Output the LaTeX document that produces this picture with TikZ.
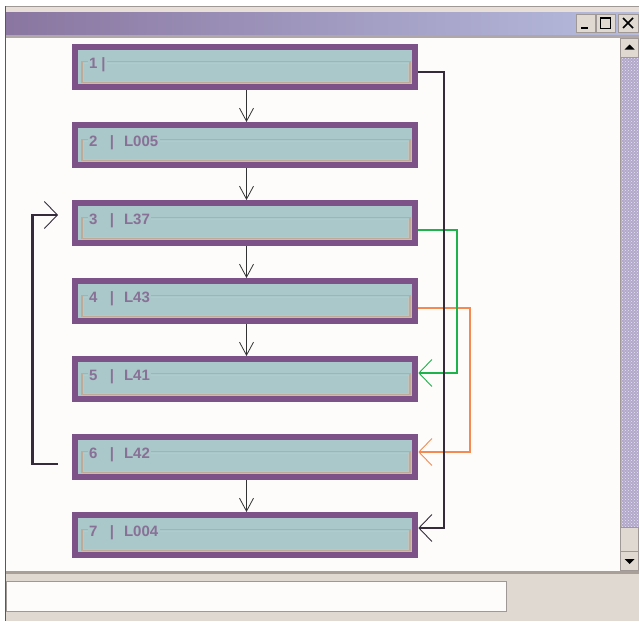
\documentclass[tikz,border=0pt]{standalone}
\usepackage{fontspec}
\setmainfont{Liberation Sans}
\usetikzlibrary{arrows.meta,calc,patterns}
\definecolor{boxpurple}{RGB}{124,82,137}
\definecolor{boxteal}{RGB}{170,199,201}
\definecolor{frametan}{RGB}{190,170,150}
\definecolor{frameinner}{RGB}{196,196,190}
\definecolor{labelcol}{RGB}{136,112,150}
\definecolor{darkconn}{RGB}{52,44,58}
\definecolor{greenconn}{RGB}{30,178,74}
\definecolor{orangeconn}{RGB}{244,138,82}
\definecolor{winbeige}{RGB}{224,217,210}
\definecolor{winwhite}{RGB}{253,252,251}
\definecolor{wingray}{RGB}{160,152,148}
\definecolor{windark}{RGB}{96,84,96}
\definecolor{titleleft}{RGB}{138,118,160}
\definecolor{titleright}{RGB}{182,188,222}
\definecolor{tracklav}{RGB}{178,168,202}
\definecolor{titlelight}{RGB}{232,224,216}
\definecolor{titleedge}{RGB}{176,168,168}
\definecolor{statusedge}{RGB}{168,160,152}
\tikzset{
  flowbox/.style={draw=boxpurple, line width=6pt, fill=boxteal, rectangle,
    minimum width=340.6pt, minimum height=40pt, inner sep=0pt},
  boxframe/.style={draw=frametan, line width=1.1pt},
  boxframein/.style={draw=frameinner, line width=0.6pt},
  boxlabel/.style={fill=boxteal, text=labelcol, font=\fontsize{15}{15}\selectfont\bfseries,
    inner xsep=1.5pt, inner ysep=1pt, anchor=base west},
  varrow/.style={draw=black!80, line width=0.9pt,
    -{Straight Barb[length=13pt,width=14pt,line width=0.8pt]}},
  conn/.style={line width=2.4pt,
    -{Straight Barb[length=13pt,width=27pt,line width=0.9pt]}},
  winbtn/.style={fill=winbeige, draw=wingray, line width=0.8pt},
}
\begin{document}
\begin{tikzpicture}[x=1pt,y=-1pt]
\useasboundingbox (0,0) rectangle (639,621);
% ---------- window chrome ----------
\fill[white] (0,0) rectangle (639,621);
\fill[winwhite] (6,38) rectangle (620,571);
\fill[titlelight] (6,6.5) rectangle (639,12.5);
\shade[left color=titleleft, right color=titleright] (6,12.5) rectangle (639,35);
\fill[titleedge] (6,35) rectangle (639,38);
\draw[wingray, line width=0.8pt] (5,6) -- (639,6);
\draw[windark, line width=1pt] (5.7,6) -- (5.7,621);
% title buttons
\node[winbtn, minimum width=19pt, minimum height=18pt, inner sep=0pt] (bmin) at (585.5,23) {};
\node[winbtn, minimum width=19pt, minimum height=18pt, inner sep=0pt] (bmax) at (605.5,23) {};
\node[winbtn, minimum width=20pt, minimum height=18pt, inner sep=0pt] (bcls) at (628,23) {};
\fill[black] ($(bmin.center)+(-5,4)$) rectangle ($(bmin.center)+(2,6)$);
\draw[black, line width=1pt] ($(bmax.center)+(-5,-6)$) rectangle ($(bmax.center)+(5,5)$);
\draw[black, line width=2pt] ($(bmax.center)+(-5,-5.5)$) -- ($(bmax.center)+(5,-5.5)$);
\draw[black, line width=1.6pt] ($(bcls.center)+(-5,-5)$) -- ($(bcls.center)+(5,5)$)
  ($(bcls.center)+(-5,5)$) -- ($(bcls.center)+(5,-5)$);
% scrollbar
\fill[tracklav] (620,57) rectangle (639,527);
\fill[pattern=crosshatch dots, pattern color=white!70!tracklav] (621,57) rectangle (639,527);
\draw[wingray, line width=0.8pt] (620,38) -- (620,571);
\node[winbtn, minimum width=18pt, minimum height=19pt, inner sep=0pt] (sup) at (629.5,47.5) {};
\node[winbtn, minimum width=18pt, minimum height=24pt, inner sep=0pt] (sthumb) at (629.5,539) {};
\node[winbtn, minimum width=18pt, minimum height=19pt, inner sep=0pt] (sdown) at (629.5,561) {};
\fill[black] ($(sup.center)+(-5,2)$) -- ($(sup.center)+(5,2)$) -- ($(sup.center)+(0,-3)$) -- cycle;
\fill[black] ($(sdown.center)+(-5,-2)$) -- ($(sdown.center)+(5,-2)$) -- ($(sdown.center)+(0,3)$) -- cycle;
% status bar
\fill[winbeige] (6,571) rectangle (639,621);
\fill[statusedge] (6,571) rectangle (639,573.5);
\node[draw=wingray, line width=1pt, fill=winwhite, minimum width=500pt, minimum height=30pt,
  inner sep=0pt] (status) at (256.5,596) {};
% ---------- flow boxes ----------
\foreach \i in {1,...,7}{
  \node[flowbox] (b\i) at (245,{67+78*(\i-1)}) {};
  \draw[boxframe] ($(b\i.north west)+(10.3,17.5)$) rectangle ($(b\i.south east)+(-8.3,-7.5)$);
  \draw[boxframein] ($(b\i.north west)+(11.6,18.8)$) rectangle ($(b\i.south east)+(-9.6,-8.8)$);
}
\node[boxlabel] (t1) at ($(b1.north west)+(15.6,24.5)$) {1 |};
\node[boxlabel] (t2) at ($(b2.north west)+(15.6,24.5)$) {2\hspace{12.5pt}|\hspace{10pt}L005};
\node[boxlabel] (t3) at ($(b3.north west)+(15.6,24.5)$) {3\hspace{12.5pt}|\hspace{10pt}L37};
\node[boxlabel] (t4) at ($(b4.north west)+(15.6,24.5)$) {4\hspace{12.5pt}|\hspace{10pt}L43};
\node[boxlabel] (t5) at ($(b5.north west)+(15.6,24.5)$) {5\hspace{12.5pt}|\hspace{10pt}L41};
\node[boxlabel] (t6) at ($(b6.north west)+(15.6,24.5)$) {6\hspace{12.5pt}|\hspace{10pt}L42};
\node[boxlabel] (t7) at ($(b7.north west)+(15.6,24.5)$) {7\hspace{12.5pt}|\hspace{10pt}L004};
% ---------- vertical arrows ----------
\foreach \a/\b in {1/2,2/3,3/4,4/5,6/7}{
  \draw[varrow] ([xshift=1.5pt]b\a.south) -- ([xshift=1.5pt]b\b.north);
}
% ---------- connectors ----------
\coordinate (r1) at (444,0);
\coordinate (r2) at (457,0);
\coordinate (r3) at (470,0);
\coordinate (lc) at (32.5,0);
\coordinate (e1) at ([yshift=-5pt]b1.east);
\coordinate (e7) at ([yshift=7pt]b7.east);
\coordinate (g3) at ([yshift=-7pt]b3.east);
\coordinate (g5) at ([yshift=6pt]b5.east);
\coordinate (o4) at ([yshift=-7pt]b4.east);
\coordinate (o6) at ([yshift=5pt]b6.east);
\coordinate (l6) at ([xshift=-13.7pt,yshift=-7pt]b6.west);
\coordinate (l3) at ([xshift=-13.7pt,yshift=8pt]b3.west);
\draw[conn, draw=orangeconn] (o4) -- (o4 -| r3) |- (o6);
\draw[conn, draw=greenconn] (g3) -- (g3 -| r2) |- (g5);
\draw[conn, draw=darkconn] (e1) -- (e1 -| r1) |- (e7);
\draw[conn, draw=darkconn] (l6) -- (l6 -| lc) |- (l3);
\end{tikzpicture}
\end{document}
